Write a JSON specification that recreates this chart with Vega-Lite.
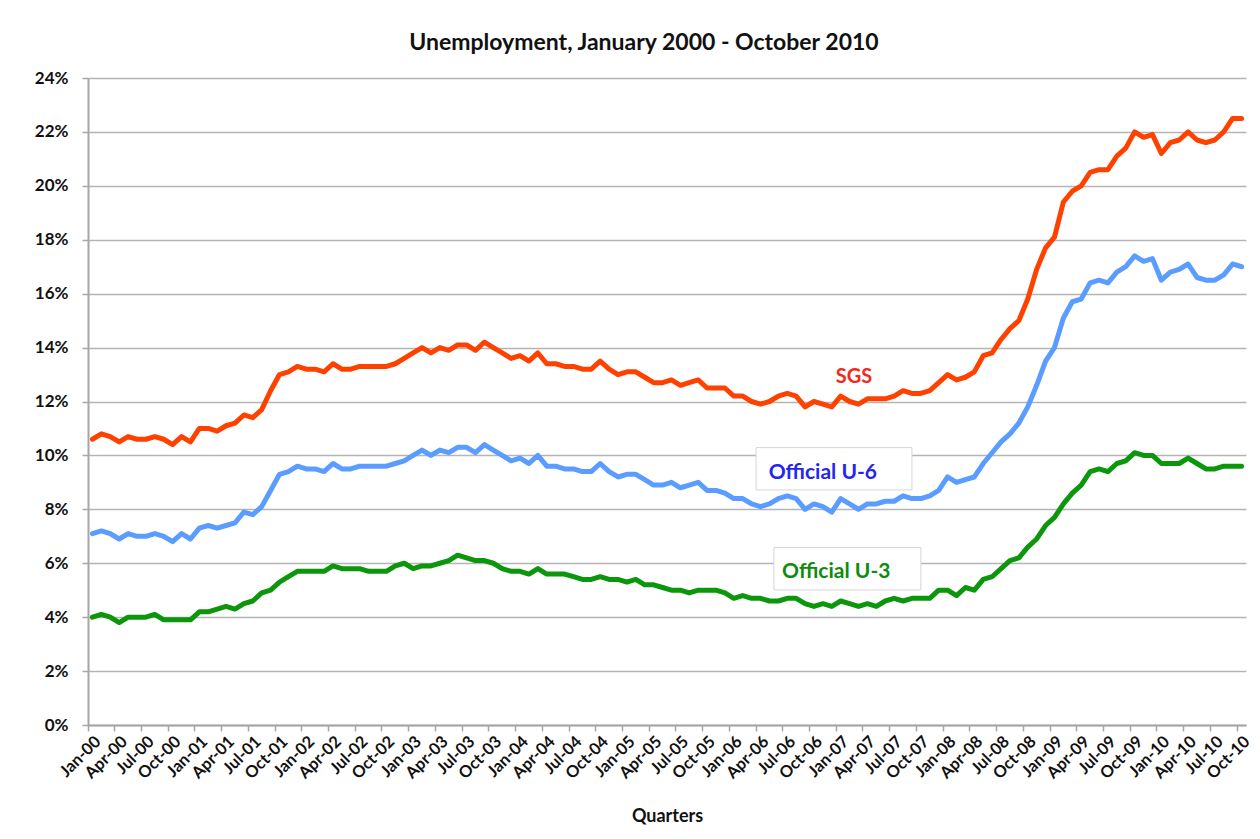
{
  "$schema": "https://vega.github.io/schema/vega-lite/v6.json",
  "width": 1158,
  "height": 647,
  "autosize": "none",
  "padding": {"left": 88, "top": 78, "right": 14, "bottom": 114},
  "background": "white",
  "config": {"font": "Lato", "view": {"stroke": null}},
  "title": {"text": "Unemployment, January 2000 - October 2010", "fontSize": 23, "font": "Lato", "fontWeight": "bold", "color": "#111111", "anchor": "middle", "frame": "group", "dx": -23, "offset": 14},
  "layer": [
    {
      "data": {"values": [
        {"m":"Jan-00","SGS":10.6,"U6":7.1,"U3":4.0},{"m":"Feb-00","SGS":10.8,"U6":7.2,"U3":4.1},{"m":"Mar-00","SGS":10.7,"U6":7.1,"U3":4.0},{"m":"Apr-00","SGS":10.5,"U6":6.9,"U3":3.8},{"m":"May-00","SGS":10.7,"U6":7.1,"U3":4.0},{"m":"Jun-00","SGS":10.6,"U6":7.0,"U3":4.0},{"m":"Jul-00","SGS":10.6,"U6":7.0,"U3":4.0},{"m":"Aug-00","SGS":10.7,"U6":7.1,"U3":4.1},{"m":"Sep-00","SGS":10.6,"U6":7.0,"U3":3.9},{"m":"Oct-00","SGS":10.4,"U6":6.8,"U3":3.9},{"m":"Nov-00","SGS":10.7,"U6":7.1,"U3":3.9},{"m":"Dec-00","SGS":10.5,"U6":6.9,"U3":3.9},
        {"m":"Jan-01","SGS":11.0,"U6":7.3,"U3":4.2},{"m":"Feb-01","SGS":11.0,"U6":7.4,"U3":4.2},{"m":"Mar-01","SGS":10.9,"U6":7.3,"U3":4.3},{"m":"Apr-01","SGS":11.1,"U6":7.4,"U3":4.4},{"m":"May-01","SGS":11.2,"U6":7.5,"U3":4.3},{"m":"Jun-01","SGS":11.5,"U6":7.9,"U3":4.5},{"m":"Jul-01","SGS":11.4,"U6":7.8,"U3":4.6},{"m":"Aug-01","SGS":11.7,"U6":8.1,"U3":4.9},{"m":"Sep-01","SGS":12.4,"U6":8.7,"U3":5.0},{"m":"Oct-01","SGS":13.0,"U6":9.3,"U3":5.3},{"m":"Nov-01","SGS":13.1,"U6":9.4,"U3":5.5},{"m":"Dec-01","SGS":13.3,"U6":9.6,"U3":5.7},
        {"m":"Jan-02","SGS":13.2,"U6":9.5,"U3":5.7},{"m":"Feb-02","SGS":13.2,"U6":9.5,"U3":5.7},{"m":"Mar-02","SGS":13.1,"U6":9.4,"U3":5.7},{"m":"Apr-02","SGS":13.4,"U6":9.7,"U3":5.9},{"m":"May-02","SGS":13.2,"U6":9.5,"U3":5.8},{"m":"Jun-02","SGS":13.2,"U6":9.5,"U3":5.8},{"m":"Jul-02","SGS":13.3,"U6":9.6,"U3":5.8},{"m":"Aug-02","SGS":13.3,"U6":9.6,"U3":5.7},{"m":"Sep-02","SGS":13.3,"U6":9.6,"U3":5.7},{"m":"Oct-02","SGS":13.3,"U6":9.6,"U3":5.7},{"m":"Nov-02","SGS":13.4,"U6":9.7,"U3":5.9},{"m":"Dec-02","SGS":13.6,"U6":9.8,"U3":6.0},
        {"m":"Jan-03","SGS":13.8,"U6":10.0,"U3":5.8},{"m":"Feb-03","SGS":14.0,"U6":10.2,"U3":5.9},{"m":"Mar-03","SGS":13.8,"U6":10.0,"U3":5.9},{"m":"Apr-03","SGS":14.0,"U6":10.2,"U3":6.0},{"m":"May-03","SGS":13.9,"U6":10.1,"U3":6.1},{"m":"Jun-03","SGS":14.1,"U6":10.3,"U3":6.3},{"m":"Jul-03","SGS":14.1,"U6":10.3,"U3":6.2},{"m":"Aug-03","SGS":13.9,"U6":10.1,"U3":6.1},{"m":"Sep-03","SGS":14.2,"U6":10.4,"U3":6.1},{"m":"Oct-03","SGS":14.0,"U6":10.2,"U3":6.0},{"m":"Nov-03","SGS":13.8,"U6":10.0,"U3":5.8},{"m":"Dec-03","SGS":13.6,"U6":9.8,"U3":5.7},
        {"m":"Jan-04","SGS":13.7,"U6":9.9,"U3":5.7},{"m":"Feb-04","SGS":13.5,"U6":9.7,"U3":5.6},{"m":"Mar-04","SGS":13.8,"U6":10.0,"U3":5.8},{"m":"Apr-04","SGS":13.4,"U6":9.6,"U3":5.6},{"m":"May-04","SGS":13.4,"U6":9.6,"U3":5.6},{"m":"Jun-04","SGS":13.3,"U6":9.5,"U3":5.6},{"m":"Jul-04","SGS":13.3,"U6":9.5,"U3":5.5},{"m":"Aug-04","SGS":13.2,"U6":9.4,"U3":5.4},{"m":"Sep-04","SGS":13.2,"U6":9.4,"U3":5.4},{"m":"Oct-04","SGS":13.5,"U6":9.7,"U3":5.5},{"m":"Nov-04","SGS":13.2,"U6":9.4,"U3":5.4},{"m":"Dec-04","SGS":13.0,"U6":9.2,"U3":5.4},
        {"m":"Jan-05","SGS":13.1,"U6":9.3,"U3":5.3},{"m":"Feb-05","SGS":13.1,"U6":9.3,"U3":5.4},{"m":"Mar-05","SGS":12.9,"U6":9.1,"U3":5.2},{"m":"Apr-05","SGS":12.7,"U6":8.9,"U3":5.2},{"m":"May-05","SGS":12.7,"U6":8.9,"U3":5.1},{"m":"Jun-05","SGS":12.8,"U6":9.0,"U3":5.0},{"m":"Jul-05","SGS":12.6,"U6":8.8,"U3":5.0},{"m":"Aug-05","SGS":12.7,"U6":8.9,"U3":4.9},{"m":"Sep-05","SGS":12.8,"U6":9.0,"U3":5.0},{"m":"Oct-05","SGS":12.5,"U6":8.7,"U3":5.0},{"m":"Nov-05","SGS":12.5,"U6":8.7,"U3":5.0},{"m":"Dec-05","SGS":12.5,"U6":8.6,"U3":4.9},
        {"m":"Jan-06","SGS":12.2,"U6":8.4,"U3":4.7},{"m":"Feb-06","SGS":12.2,"U6":8.4,"U3":4.8},{"m":"Mar-06","SGS":12.0,"U6":8.2,"U3":4.7},{"m":"Apr-06","SGS":11.9,"U6":8.1,"U3":4.7},{"m":"May-06","SGS":12.0,"U6":8.2,"U3":4.6},{"m":"Jun-06","SGS":12.2,"U6":8.4,"U3":4.6},{"m":"Jul-06","SGS":12.3,"U6":8.5,"U3":4.7},{"m":"Aug-06","SGS":12.2,"U6":8.4,"U3":4.7},{"m":"Sep-06","SGS":11.8,"U6":8.0,"U3":4.5},{"m":"Oct-06","SGS":12.0,"U6":8.2,"U3":4.4},{"m":"Nov-06","SGS":11.9,"U6":8.1,"U3":4.5},{"m":"Dec-06","SGS":11.8,"U6":7.9,"U3":4.4},
        {"m":"Jan-07","SGS":12.2,"U6":8.4,"U3":4.6},{"m":"Feb-07","SGS":12.0,"U6":8.2,"U3":4.5},{"m":"Mar-07","SGS":11.9,"U6":8.0,"U3":4.4},{"m":"Apr-07","SGS":12.1,"U6":8.2,"U3":4.5},{"m":"May-07","SGS":12.1,"U6":8.2,"U3":4.4},{"m":"Jun-07","SGS":12.1,"U6":8.3,"U3":4.6},{"m":"Jul-07","SGS":12.2,"U6":8.3,"U3":4.7},{"m":"Aug-07","SGS":12.4,"U6":8.5,"U3":4.6},{"m":"Sep-07","SGS":12.3,"U6":8.4,"U3":4.7},{"m":"Oct-07","SGS":12.3,"U6":8.4,"U3":4.7},{"m":"Nov-07","SGS":12.4,"U6":8.5,"U3":4.7},{"m":"Dec-07","SGS":12.7,"U6":8.7,"U3":5.0},
        {"m":"Jan-08","SGS":13.0,"U6":9.2,"U3":5.0},{"m":"Feb-08","SGS":12.8,"U6":9.0,"U3":4.8},{"m":"Mar-08","SGS":12.9,"U6":9.1,"U3":5.1},{"m":"Apr-08","SGS":13.1,"U6":9.2,"U3":5.0},{"m":"May-08","SGS":13.7,"U6":9.7,"U3":5.4},{"m":"Jun-08","SGS":13.8,"U6":10.1,"U3":5.5},{"m":"Jul-08","SGS":14.3,"U6":10.5,"U3":5.8},{"m":"Aug-08","SGS":14.7,"U6":10.8,"U3":6.1},{"m":"Sep-08","SGS":15.0,"U6":11.2,"U3":6.2},{"m":"Oct-08","SGS":15.8,"U6":11.8,"U3":6.6},{"m":"Nov-08","SGS":16.9,"U6":12.6,"U3":6.9},{"m":"Dec-08","SGS":17.7,"U6":13.5,"U3":7.4},
        {"m":"Jan-09","SGS":18.1,"U6":14.0,"U3":7.7},{"m":"Feb-09","SGS":19.4,"U6":15.1,"U3":8.2},{"m":"Mar-09","SGS":19.8,"U6":15.7,"U3":8.6},{"m":"Apr-09","SGS":20.0,"U6":15.8,"U3":8.9},{"m":"May-09","SGS":20.5,"U6":16.4,"U3":9.4},{"m":"Jun-09","SGS":20.6,"U6":16.5,"U3":9.5},{"m":"Jul-09","SGS":20.6,"U6":16.4,"U3":9.4},{"m":"Aug-09","SGS":21.1,"U6":16.8,"U3":9.7},{"m":"Sep-09","SGS":21.4,"U6":17.0,"U3":9.8},{"m":"Oct-09","SGS":22.0,"U6":17.4,"U3":10.1},{"m":"Nov-09","SGS":21.8,"U6":17.2,"U3":10.0},{"m":"Dec-09","SGS":21.9,"U6":17.3,"U3":10.0},
        {"m":"Jan-10","SGS":21.2,"U6":16.5,"U3":9.7},{"m":"Feb-10","SGS":21.6,"U6":16.8,"U3":9.7},{"m":"Mar-10","SGS":21.7,"U6":16.9,"U3":9.7},{"m":"Apr-10","SGS":22.0,"U6":17.1,"U3":9.9},{"m":"May-10","SGS":21.7,"U6":16.6,"U3":9.7},{"m":"Jun-10","SGS":21.6,"U6":16.5,"U3":9.5},{"m":"Jul-10","SGS":21.7,"U6":16.5,"U3":9.5},{"m":"Aug-10","SGS":22.0,"U6":16.7,"U3":9.6},{"m":"Sep-10","SGS":22.5,"U6":17.1,"U3":9.6},{"m":"Oct-10","SGS":22.5,"U6":17.0,"U3":9.6}
      ]},
      "transform": [{"fold": ["SGS", "U6", "U3"], "as": ["series", "value"]}],
      "mark": {"type": "line", "strokeWidth": 5, "strokeJoin": "round", "strokeCap": "round"},
      "encoding": {
        "x": {
          "field": "m", "type": "ordinal",
          "scale": {"type": "band", "paddingInner": 0, "paddingOuter": 0, "domain": ["Jan-00","Feb-00","Mar-00","Apr-00","May-00","Jun-00","Jul-00","Aug-00","Sep-00","Oct-00","Nov-00","Dec-00","Jan-01","Feb-01","Mar-01","Apr-01","May-01","Jun-01","Jul-01","Aug-01","Sep-01","Oct-01","Nov-01","Dec-01","Jan-02","Feb-02","Mar-02","Apr-02","May-02","Jun-02","Jul-02","Aug-02","Sep-02","Oct-02","Nov-02","Dec-02","Jan-03","Feb-03","Mar-03","Apr-03","May-03","Jun-03","Jul-03","Aug-03","Sep-03","Oct-03","Nov-03","Dec-03","Jan-04","Feb-04","Mar-04","Apr-04","May-04","Jun-04","Jul-04","Aug-04","Sep-04","Oct-04","Nov-04","Dec-04","Jan-05","Feb-05","Mar-05","Apr-05","May-05","Jun-05","Jul-05","Aug-05","Sep-05","Oct-05","Nov-05","Dec-05","Jan-06","Feb-06","Mar-06","Apr-06","May-06","Jun-06","Jul-06","Aug-06","Sep-06","Oct-06","Nov-06","Dec-06","Jan-07","Feb-07","Mar-07","Apr-07","May-07","Jun-07","Jul-07","Aug-07","Sep-07","Oct-07","Nov-07","Dec-07","Jan-08","Feb-08","Mar-08","Apr-08","May-08","Jun-08","Jul-08","Aug-08","Sep-08","Oct-08","Nov-08","Dec-08","Jan-09","Feb-09","Mar-09","Apr-09","May-09","Jun-09","Jul-09","Aug-09","Sep-09","Oct-09","Nov-09","Dec-09","Jan-10","Feb-10","Mar-10","Apr-10","May-10","Jun-10","Jul-10","Aug-10","Sep-10","Oct-10"]},
          "axis": {
            "values": ["Jan-00","Apr-00","Jul-00","Oct-00","Jan-01","Apr-01","Jul-01","Oct-01","Jan-02","Apr-02","Jul-02","Oct-02","Jan-03","Apr-03","Jul-03","Oct-03","Jan-04","Apr-04","Jul-04","Oct-04","Jan-05","Apr-05","Jul-05","Oct-05","Jan-06","Apr-06","Jul-06","Oct-06","Jan-07","Apr-07","Jul-07","Oct-07","Jan-08","Apr-08","Jul-08","Oct-08","Jan-09","Apr-09","Jul-09","Oct-09","Jan-10","Apr-10","Jul-10","Oct-10"],
            "bandPosition": 0,
            "labelAngle": -45, "labelAlign": "right", "labelBaseline": "top",
            "labelFontSize": 16.5, "labelFontWeight": "bold", "labelColor": "#111111", "labelPadding": 2,
            "tickColor": "#a6a6a6", "tickSize": 6, "tickWidth": 1.5,
            "domainColor": "#a6a6a6", "domainWidth": 2,
            "grid": false,
            "title": "Quarters", "titleFontSize": 18, "titleFontWeight": "bold", "titleColor": "#111111", "titlePadding": 26
          }
        },
        "y": {
          "field": "value", "type": "quantitative",
          "scale": {"domain": [0, 24], "nice": false, "zero": true},
          "axis": {
            "values": [0,2,4,6,8,10,12,14,16,18,20,22,24],
            "labelExpr": "datum.value + '%'",
            "labelFontSize": 17, "labelFontWeight": "bold", "labelColor": "#111111", "labelPadding": 14,
            "tickColor": "#a6a6a6", "tickSize": 6, "tickWidth": 1.5,
            "domainColor": "#a6a6a6", "domainWidth": 2,
            "gridColor": "#b5b5b5", "gridWidth": 1.5,
            "title": null
          }
        },
        "color": {
          "field": "series", "type": "nominal",
          "scale": {"domain": ["SGS", "U6", "U3"], "range": ["#ff4100", "#5a9cff", "#0b960b"]},
          "legend": null
        }
      }
    },
    {
      "data": {"values": [
        {"m": "Apr-06", "m2": "Sep-07", "value": 8.72, "value2": 10.29},
        {"m": "Jun-06", "m2": "Oct-07", "value": 5.01, "value2": 6.58}
      ]},
      "mark": {"type": "rect", "fill": "white", "stroke": "#d6d6d6", "strokeWidth": 1},
      "encoding": {
        "x": {"field": "m", "type": "ordinal", "bandPosition": 0},
        "x2": {"field": "m2"},
        "y": {"field": "value", "type": "quantitative"},
        "y2": {"field": "value2"}
      }
    },
    {
      "data": {"values": [{"m": "Mar-07", "value": 12.69, "label": "SGS"}]},
      "mark": {"type": "text", "font": "Lato", "fontWeight": "bold", "fontSize": 20, "color": "#f22a1e", "align": "center", "baseline": "alphabetic"},
      "encoding": {
        "x": {"field": "m", "type": "ordinal", "bandPosition": 0},
        "y": {"field": "value", "type": "quantitative"},
        "text": {"field": "label"}
      }
    },
    {
      "data": {"values": [{"m": "Nov-06", "value": 9.12, "label": "Official U-6"}]},
      "mark": {"type": "text", "font": "Lato", "fontWeight": "bold", "fontSize": 21, "color": "#2525f2", "align": "center", "baseline": "alphabetic"},
      "encoding": {
        "x": {"field": "m", "type": "ordinal", "bandPosition": 0.5},
        "y": {"field": "value", "type": "quantitative"},
        "text": {"field": "label"}
      }
    },
    {
      "data": {"values": [{"m": "Jan-07", "value": 5.46, "label": "Official U-3"}]},
      "mark": {"type": "text", "font": "Lato", "fontWeight": "bold", "fontSize": 21, "color": "#0e8c0e", "align": "center", "baseline": "alphabetic"},
      "encoding": {
        "x": {"field": "m", "type": "ordinal", "bandPosition": 0},
        "y": {"field": "value", "type": "quantitative"},
        "text": {"field": "label"}
      }
    }
  ]
}
